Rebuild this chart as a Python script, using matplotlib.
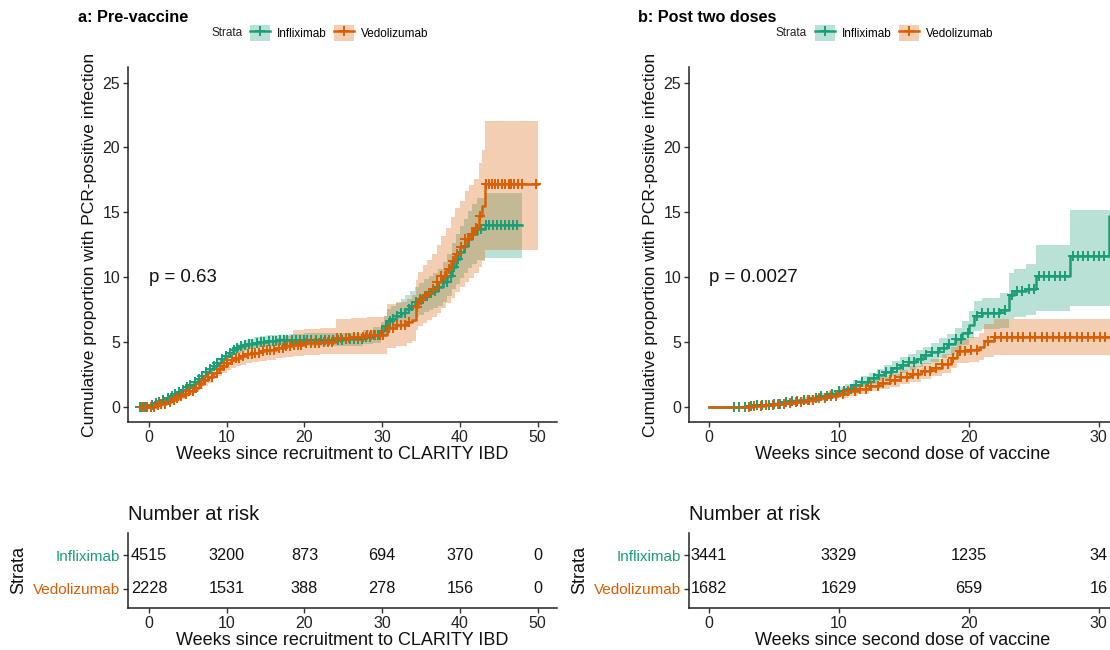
import numpy as np
import matplotlib
matplotlib.use("Agg")
import matplotlib.pyplot as plt
from matplotlib.patches import Patch
from matplotlib.lines import Line2D

plt.rcParams['font.family'] = ['Liberation Sans', 'DejaVu Sans']

# ---------------- data ----------------
groups = ["Infliximab", "Vedolizumab"]
colors = ["#1B9E77", "#D95F02"]

# Panel a: pre-vaccine (weeks since recruitment)
a_ifx_t = [-1.2, 0.3, 0.8, 1.3, 1.8, 2.3, 2.8, 3.3, 3.8, 4.3, 4.8, 5.3, 5.8, 6.3, 6.8, 7.3, 7.8, 8.3, 8.8, 9.3,
           9.8, 10.3, 10.8, 11.3, 11.8, 12.3, 12.8, 13.5, 14.3, 15.2, 16.5, 18, 20, 25, 27.5, 28.8, 29.8, 30.3,
           30.6, 31.2, 31.8, 32.4, 33.0, 33.6, 34.2, 34.8, 35.4, 36.0, 36.6, 37.2, 37.8, 38.4, 39.0, 39.5, 40.0,
           40.5, 41.0, 41.6, 42.2, 43.2, 48.0]
a_ifx_est = [0, 0.1, 0.25, 0.4, 0.55, 0.7, 0.85, 1.0, 1.15, 1.3, 1.5, 1.7, 1.92, 2.15, 2.4, 2.65, 2.9, 3.15, 3.4, 3.65,
             3.9, 4.15, 4.35, 4.5, 4.65, 4.77, 4.87, 4.95, 5.02, 5.08, 5.12, 5.15, 5.18, 5.2, 5.35, 5.55, 5.8, 6.2,
             6.6, 6.8, 7.0, 7.25, 7.5, 7.8, 8.05, 8.3, 8.55, 8.75, 8.95, 9.2, 9.6, 10.1, 10.8, 11.4, 11.9,
             12.4, 12.9, 13.3, 13.7, 14.0, 14.0]
a_ifx_lo = [0, 0.02, 0.12, 0.25, 0.38, 0.52, 0.66, 0.8, 0.94, 1.08, 1.27, 1.46, 1.67, 1.89, 2.13, 2.37, 2.61, 2.85, 3.09, 3.33,
            3.57, 3.81, 4.0, 4.14, 4.28, 4.39, 4.48, 4.55, 4.61, 4.66, 4.69, 4.7, 4.7, 4.7, 4.8, 4.95, 5.15, 5.5,
            5.75, 5.9, 6.05, 6.25, 6.45, 6.7, 6.9, 7.1, 7.3, 7.45, 7.6, 7.8, 8.1, 8.5, 9.05, 9.5, 9.9,
            10.3, 10.7, 11.0, 11.3, 11.5, 11.5]
a_ifx_hi = [0, 0.18, 0.38, 0.55, 0.72, 0.88, 1.04, 1.2, 1.36, 1.52, 1.73, 1.94, 2.17, 2.41, 2.67, 2.93, 3.19, 3.45, 3.71, 3.97,
            4.23, 4.49, 4.7, 4.86, 5.02, 5.15, 5.26, 5.35, 5.43, 5.5, 5.55, 5.6, 5.66, 5.7, 5.9, 6.15, 6.5, 7.0,
            7.5, 7.75, 8.0, 8.3, 8.6, 8.95, 9.25, 9.55, 9.85, 10.1, 10.35, 10.65, 11.15, 11.75, 12.6, 13.3, 13.9,
            14.5, 15.1, 15.6, 16.1, 16.5, 16.5]
a_ifx_cens = [-1.1, -0.7, -0.2, 0.4, 0.9, 1.3, 1.8, 2.4, 2.9, 3.3, 3.8, 4.4, 4.9, 5.3, 5.9, 6.4, 6.8, 7.3, 7.9, 8.4,
              8.8, 9.4, 9.9, 10.4, 10.9, 11.3, 11.8, 12.4, 12.9, 13.3, 13.9, 14.4, 14.8, 15.4, 15.9, 16.3, 16.9,
              17.4, 17.8, 18.4, 18.9, 19.4, 19.9, 20.3, 20.9, 21.5, 22.1, 22.6, 23.2, 23.7, 24.3, 24.8, 25.4, 25.9,
              26.4, 26.9, 27.4, 27.9, 28.5, 29.0, 29.5, 30.0, 30.5, 31.0, 31.4, 31.9, 32.4, 32.9, 33.4, 33.9, 34.4,
              34.9, 35.3, 35.8, 36.3, 36.8, 37.3, 37.8, 38.3, 38.8, 39.2, 39.7, 40.2, 40.7, 41.2, 41.7, 42.2, 42.7,
              43.3, 43.8, 44.3, 44.8, 45.3, 45.8, 46.3, 46.8, 47.3]

a_vdz_t = [-1.2, 1.0, 1.6, 2.2, 2.8, 3.4, 4.0, 4.6, 5.2, 5.8, 6.4, 7.0, 7.6, 8.2, 8.8, 9.4, 10.0, 10.6, 11.2, 11.8,
           12.5, 13.3, 14.2, 15.2, 16.3, 17.5, 18.5, 20.0, 22.0, 24.1, 26.0, 28.0, 30.2, 30.6, 31.8, 33.2, 33.8,
           34.3, 34.6, 35.2, 35.8, 36.4, 37.0, 37.6, 38.2, 38.8, 39.4, 40.0, 40.6, 41.2, 41.8, 42.4, 42.8, 43.2, 50.1]
a_vdz_est = [0, 0.1, 0.22, 0.35, 0.5, 0.65, 0.82, 1.0, 1.22, 1.48, 1.75, 2.03, 2.32, 2.62, 2.9, 3.15, 3.38, 3.58, 3.75, 3.9,
             4.03, 4.15, 4.27, 4.38, 4.5, 4.65, 4.78, 4.88, 4.98, 5.3, 5.4, 5.5, 5.55, 6.1, 6.3, 6.5, 6.7,
             7.7, 8.2, 8.5, 8.8, 9.1, 9.6, 10.1, 10.6, 11.2, 11.8, 12.3, 12.9, 13.3, 13.8, 14.7, 15.5, 17.2, 17.2]
a_vdz_lo = [0, 0.0, 0.08, 0.18, 0.3, 0.42, 0.56, 0.72, 0.9, 1.12, 1.36, 1.6, 1.86, 2.13, 2.38, 2.6, 2.8, 2.97, 3.11, 3.24,
            3.35, 3.45, 3.55, 3.63, 3.72, 3.83, 3.93, 4.0, 4.05, 4.1, 4.1, 4.1, 4.1, 4.5, 4.7, 4.9, 5.1,
            5.9, 6.2, 6.45, 6.65, 6.9, 7.25, 7.6, 8.0, 8.4, 8.85, 9.2, 9.6, 9.95, 10.3, 10.8, 11.2, 12.1, 12.1]
a_vdz_hi = [0, 0.22, 0.38, 0.55, 0.72, 0.9, 1.1, 1.3, 1.55, 1.85, 2.15, 2.47, 2.8, 3.13, 3.44, 3.72, 3.98, 4.2, 4.4, 4.57,
            4.72, 4.86, 5.0, 5.13, 5.28, 5.47, 5.95, 5.98, 6.05, 6.8, 6.85, 6.9, 7.0, 7.9, 8.1, 8.3, 8.6,
            9.8, 10.4, 10.9, 11.3, 11.8, 12.5, 13.2, 13.8, 14.6, 15.3, 15.9, 16.6, 17.1, 17.6, 18.8, 19.8, 22.0, 22.0]
a_vdz_cens = [-0.9, -0.4, 0.2, 0.7, 1.2, 1.6, 2.1, 2.7, 3.2, 3.6, 4.1, 4.7, 5.2, 5.6, 6.1, 6.7, 7.2, 7.6, 8.1, 8.7,
              9.2, 9.6, 10.1, 10.7, 11.2, 11.6, 12.1, 12.7, 13.2, 13.6, 14.1, 14.7, 15.2, 15.6, 16.1, 16.7, 17.2,
              17.6, 18.1, 18.7, 19.2, 19.6, 20.2, 20.8, 21.3, 21.9, 22.5, 23.0, 23.6, 24.2, 24.7, 25.3, 25.8, 26.4,
              26.9, 27.5, 28.0, 28.6, 29.1, 29.7, 30.1, 30.9, 31.4, 31.9, 32.4, 33.0, 33.5, 34.5, 35.0, 35.5, 36.0,
              36.6, 37.1, 37.6, 38.1, 38.6, 39.1, 39.6, 40.1, 40.6, 41.1, 41.6, 42.1, 42.6, 43.4, 43.8, 44.1, 44.5,
              44.9, 45.4, 45.8, 46.3, 46.6, 47.0, 47.5, 48.0, 49.8]

# Panel b: post two doses (weeks since second dose)
b_ifx_t = [0, 2.9, 3.6, 4.3, 5.0, 5.7, 6.4, 7.1, 7.8, 8.5, 9.2, 9.9, 10.5, 11.1, 11.7, 12.3, 12.9, 13.5, 14.1, 14.7,
           15.3, 15.9, 16.5, 17.1, 17.7, 18.3, 18.9, 19.5, 20.0, 20.4, 21.0, 22.4, 23.1, 23.5, 24.4, 25.2, 27.8,
           30.8, 31.4]
b_ifx_est = [0, 0.05, 0.1, 0.16, 0.24, 0.33, 0.43, 0.54, 0.67, 0.82, 0.99, 1.18, 1.4, 1.65, 1.92, 2.18, 2.44, 2.7,
             2.95, 3.2, 3.45, 3.7, 3.95, 4.2, 4.5, 4.8, 5.2, 5.7, 6.3, 7.0, 7.2, 7.45, 8.6, 8.9, 9.1, 10.1, 11.6,
             14.7, 14.7]
b_ifx_lo = [0, 0, 0.02, 0.06, 0.12, 0.19, 0.27, 0.36, 0.46, 0.58, 0.72, 0.88, 1.06, 1.27, 1.5, 1.72, 1.95, 2.17,
            2.39, 2.61, 2.83, 3.05, 3.26, 3.48, 3.74, 4.0, 4.33, 4.75, 5.27, 5.85, 5.98, 6.1, 6.8, 6.95, 7.05, 7.4,
            7.75, 7.75, 7.75]
b_ifx_hi = [0, 0.15, 0.22, 0.3, 0.4, 0.5, 0.62, 0.75, 0.9, 1.07, 1.27, 1.5, 1.74, 2.03, 2.34, 2.63, 2.93, 3.22,
            3.52, 3.8, 4.08, 4.36, 4.64, 4.93, 5.27, 5.62, 6.07, 6.64, 7.4, 8.15, 8.42, 8.8, 10.3, 10.6, 11.0, 12.5,
            15.2, 15.2, 15.2]
b_ifx_cens = [1.9, 2.3, 2.8, 3.2, 3.7, 4.1, 4.6, 5.0, 5.5, 5.9, 6.4, 6.8, 7.3, 7.7, 8.2, 8.6, 9.1, 9.5, 10.0, 10.4,
              10.9, 11.3, 11.8, 12.2, 12.7, 13.1, 13.6, 14.0, 14.5, 14.9, 15.4, 15.8, 16.3, 16.7, 17.2, 17.6, 18.1,
              18.5, 19.0, 19.4, 19.9, 20.6, 21.0, 21.5, 21.9, 22.3, 22.8, 23.3, 23.7, 24.1, 24.6, 25.0, 25.4, 25.8,
              26.2, 26.6, 27.0, 27.4, 28.0, 28.4, 28.8, 29.2, 29.6, 30.0, 30.4]

b_vdz_t = [0, 3.5, 4.3, 5.1, 5.9, 6.7, 7.5, 8.3, 9.1, 9.9, 10.7, 11.5, 12.3, 13.1, 13.9, 14.7, 15.5, 16.3, 17.1,
           17.9, 18.6, 19.1, 20.0, 20.8, 21.2, 21.9, 31.4]
b_vdz_est = [0, 0.04, 0.1, 0.18, 0.27, 0.38, 0.52, 0.67, 0.84, 1.0, 1.18, 1.38, 1.6, 1.83, 2.05, 2.28, 2.52, 2.76,
             3.0, 3.3, 3.75, 4.3, 4.4, 4.6, 5.1, 5.35, 5.35]
b_vdz_lo = [0, 0, 0.02, 0.07, 0.13, 0.21, 0.31, 0.43, 0.57, 0.7, 0.85, 1.01, 1.19, 1.37, 1.55, 1.74, 1.93, 2.13,
            2.33, 2.57, 2.95, 3.38, 3.45, 3.6, 3.8, 3.95, 3.95]
b_vdz_hi = [0, 0.12, 0.2, 0.3, 0.42, 0.56, 0.74, 0.93, 1.13, 1.32, 1.53, 1.77, 2.03, 2.3, 2.56, 2.84, 3.12, 3.4,
            3.7, 4.05, 4.6, 5.25, 5.4, 5.65, 6.4, 6.75, 6.75]
b_vdz_cens = [3.1, 3.5, 4.0, 4.4, 4.9, 5.3, 5.8, 6.2, 6.7, 7.1, 7.6, 8.0, 8.5, 8.9, 9.4, 9.8, 10.3, 10.7, 11.2, 11.6,
              12.1, 12.5, 13.0, 13.4, 13.9, 14.3, 14.8, 15.2, 15.7, 16.1, 16.6, 17.0, 17.5, 17.9, 18.4, 18.8, 19.3,
              19.7, 20.2, 20.6, 21.5, 22.0, 22.5, 22.9, 23.3, 23.8, 24.2, 24.7, 25.1, 25.6, 26.0, 26.5, 26.9, 27.4,
              27.8, 28.3, 28.7, 29.2, 29.6, 30.1, 30.5]

# Risk tables
a_risk_times = [0, 10, 20, 30, 40, 50]
a_risk_ifx = [4515, 3200, 873, 694, 370, 0]
a_risk_vdz = [2228, 1531, 388, 278, 156, 0]
b_risk_times = [0, 10, 20, 30]
b_risk_ifx = [3441, 3329, 1235, 34]
b_risk_vdz = [1682, 1629, 659, 16]

a_pval = "p = 0.63"
b_pval = "p = 0.0027"
a_title = "a: Pre-vaccine"
b_title = "b: Post two doses"
a_xlabel = "Weeks since recruitment to CLARITY IBD"
b_xlabel = "Weeks since second dose of vaccine"
ylabel = "Cumulative proportion with PCR-positive infection"

# ---------------- layout ----------------
W, H = 1110, 650
fig = plt.figure(figsize=(W / 100, H / 100), dpi=100)
TXT = "#111111"


def px_axes(x0, y0, x1, y1):
    return fig.add_axes([x0 / W, 1 - y1 / H, (x1 - x0) / W, (y1 - y0) / H])


def style(ax):
    for s in ("top", "right"):
        ax.spines[s].set_visible(False)
    for s in ("left", "bottom"):
        ax.spines[s].set_linewidth(1.1)
        ax.spines[s].set_color("#222222")
    ax.tick_params(direction="out", length=3.5, width=1.0, color="#333333",
                   labelsize=11.5, labelcolor="#222222", pad=2)


def step_val(t, v, q):
    idx = np.searchsorted(np.asarray(t), np.asarray(q), side="right") - 1
    idx = np.clip(idx, 0, len(v) - 1)
    return np.asarray(v)[idx]


def km_panel(ax, curves, xlim, xticks, xlabel, pval):
    style(ax)
    for (t, est, lo, hi, cens), c in zip(curves, colors):
        ax.fill_between(t, lo, hi, step="post", color=c, alpha=0.3, linewidth=0)
    for (t, est, lo, hi, cens), c in zip(curves, colors):
        ax.step(t, est, where="post", color=c, lw=1.8)
        ax.plot(cens, step_val(t, est, cens), ls="none", marker="+", ms=7, mew=1.4, color=c)
    ax.set_xlim(*xlim)
    ax.set_ylim(-1.18, 26.2)
    ax.set_xticks(xticks)
    ax.set_yticks([0, 5, 10, 15, 20, 25])
    ax.set_xlabel(xlabel, fontsize=13, color=TXT, labelpad=1)
    ax.set_ylabel(ylabel, fontsize=12.6, color=TXT, labelpad=4)
    ax.text(0, 10, pval, fontsize=13.4, va="center", ha="left", color=TXT)


def risk_panel(ax, times, r1, r2, xlim, xlabel):
    style(ax)
    for x, a, b in zip(times, r1, r2):
        ax.text(x, 2, str(a), ha="center", va="center", fontsize=11.7, color=TXT, clip_on=False)
        ax.text(x, 1, str(b), ha="center", va="center", fontsize=11.7, color=TXT, clip_on=False)
    ax.set_xlim(*xlim)
    ax.set_ylim(0.44, 2.65)
    ax.set_xticks(times)
    ax.set_yticks([2, 1])
    ax.set_yticklabels(groups, fontsize=11)
    for lab, c in zip(ax.get_yticklabels(), colors):
        lab.set_color(c)
    ax.set_xlabel(xlabel, fontsize=13, color=TXT, labelpad=1)
    ax.set_ylabel("Strata", fontsize=13, color=TXT, labelpad=4)
    ax.text(0, 1.24, "Number at risk", transform=ax.transAxes, fontsize=14.5, ha="left",
            va="center", color=TXT)


ax1 = px_axes(128, 67, 557, 422)
ax2 = px_axes(689, 67, 1117, 422)
t1 = px_axes(128, 533, 557, 608)
t2 = px_axes(689, 533, 1117, 608)

a_xlim = (-2.70, 52.5)
b_xlim = (-1.54, 31.4)

km_panel(ax1, [(a_ifx_t, a_ifx_est, a_ifx_lo, a_ifx_hi, a_ifx_cens),
               (a_vdz_t, a_vdz_est, a_vdz_lo, a_vdz_hi, a_vdz_cens)],
         a_xlim, [0, 10, 20, 30, 40, 50], a_xlabel, a_pval)
km_panel(ax2, [(b_ifx_t, b_ifx_est, b_ifx_lo, b_ifx_hi, b_ifx_cens),
               (b_vdz_t, b_vdz_est, b_vdz_lo, b_vdz_hi, b_vdz_cens)],
         b_xlim, [0, 10, 20, 30], b_xlabel, b_pval)

risk_panel(t1, a_risk_times, a_risk_ifx, a_risk_vdz, a_xlim, a_xlabel)
risk_panel(t2, b_risk_times, b_risk_ifx, b_risk_vdz, b_xlim, b_xlabel)

# Titles
fig.text(78 / W, 1 - 18 / H, a_title, fontsize=11.7, fontweight="bold", va="center", ha="left")
fig.text(638 / W, 1 - 18 / H, b_title, fontsize=11.7, fontweight="bold", va="center", ha="left")

# Legends
handles = [(Patch(facecolor=c, alpha=0.3, edgecolor="none"),
            Line2D([], [], color=c, lw=1.8, marker="+", ms=7, mew=1.4)) for c in colors]
for strata_x, key_x in [(212, 250), (775, 815)]:
    fig.text(strata_x / W, 1 - 33 / H, "Strata", fontsize=8.5, va="center", ha="left", color="#222222")
    fig.legend(handles, groups, loc="center left", bbox_to_anchor=(key_x / W, 1 - 33 / H),
               ncol=2, frameon=False, fontsize=8.5, handlelength=1.7, handleheight=1.7,
               handletextpad=0.6, columnspacing=0.6, borderpad=0, borderaxespad=0)

fig.savefig("out.png", dpi=100)
